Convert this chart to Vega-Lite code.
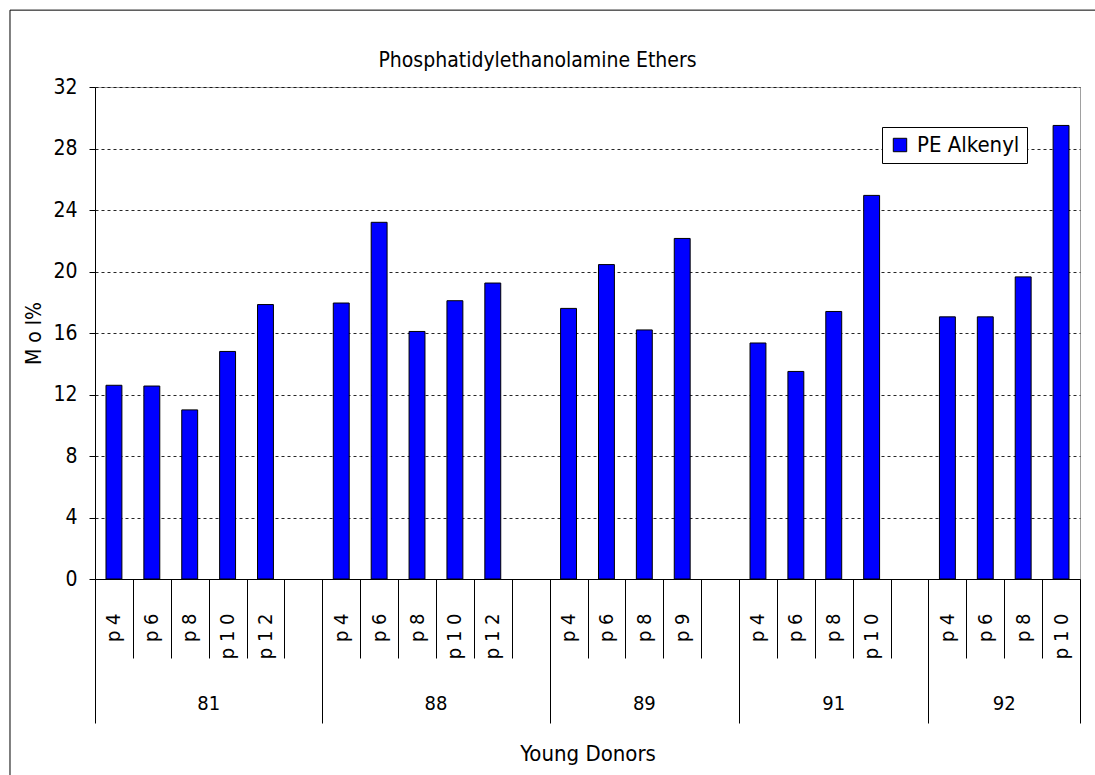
{
  "$schema": "https://vega.github.io/schema/vega-lite/v6.json",
  "width": 985,
  "height": 492,
  "autosize": {"type": "none"},
  "padding": {"left": 95, "top": 87, "right": 15, "bottom": 196},
  "background": "white",
  "config": {
    "font": "'DejaVu Sans Condensed', 'DejaVu Sans', sans-serif",
    "view": {"stroke": "#a0a0a0", "strokeWidth": 1}
  },
  "title": {
    "text": "Phosphatidylethanolamine Ethers",
    "fontSize": 21,
    "fontWeight": "normal",
    "color": "black",
    "frame": "group",
    "anchor": "middle",
    "offset": -61,
    "dx": -50
  },
  "datasets": {
    "bars": [
      {"key": "81|p 4", "group": "81", "value": 12.6, "series": "PE Alkenyl"},
      {"key": "81|p 6", "group": "81", "value": 12.55, "series": "PE Alkenyl"},
      {"key": "81|p 8", "group": "81", "value": 11.0, "series": "PE Alkenyl"},
      {"key": "81|p 1 0", "group": "81", "value": 14.8, "series": "PE Alkenyl"},
      {"key": "81|p 1 2", "group": "81", "value": 17.85, "series": "PE Alkenyl"},
      {"key": "88|p 4", "group": "88", "value": 17.95, "series": "PE Alkenyl"},
      {"key": "88|p 6", "group": "88", "value": 23.2, "series": "PE Alkenyl"},
      {"key": "88|p 8", "group": "88", "value": 16.1, "series": "PE Alkenyl"},
      {"key": "88|p 1 0", "group": "88", "value": 18.1, "series": "PE Alkenyl"},
      {"key": "88|p 1 2", "group": "88", "value": 19.25, "series": "PE Alkenyl"},
      {"key": "89|p 4", "group": "89", "value": 17.6, "series": "PE Alkenyl"},
      {"key": "89|p 6", "group": "89", "value": 20.45, "series": "PE Alkenyl"},
      {"key": "89|p 8", "group": "89", "value": 16.2, "series": "PE Alkenyl"},
      {"key": "89|p 9", "group": "89", "value": 22.15, "series": "PE Alkenyl"},
      {"key": "91|p 4", "group": "91", "value": 15.35, "series": "PE Alkenyl"},
      {"key": "91|p 6", "group": "91", "value": 13.5, "series": "PE Alkenyl"},
      {"key": "91|p 8", "group": "91", "value": 17.4, "series": "PE Alkenyl"},
      {"key": "91|p 1 0", "group": "91", "value": 24.95, "series": "PE Alkenyl"},
      {"key": "92|p 4", "group": "92", "value": 17.05, "series": "PE Alkenyl"},
      {"key": "92|p 6", "group": "92", "value": 17.05, "series": "PE Alkenyl"},
      {"key": "92|p 8", "group": "92", "value": 19.65, "series": "PE Alkenyl"},
      {"key": "92|p 1 0", "group": "92", "value": 29.5, "series": "PE Alkenyl"}
    ],
    "groups": [
      {"group": "81", "mid": 3},
      {"group": "88", "mid": 9},
      {"group": "89", "mid": 14.5},
      {"group": "91", "mid": 19.5},
      {"group": "92", "mid": 24}
    ]
  },
  "layer": [
    {
      "data": {"name": "bars"},
      "mark": {"type": "bar", "stroke": "black", "strokeWidth": 1, "width": {"band": 0.42}},
      "encoding": {
        "x": {
          "field": "key",
          "type": "nominal",
          "title": "Young Donors",
          "scale": {
            "domain": ["81|p 4", "81|p 6", "81|p 8", "81|p 1 0", "81|p 1 2", "81|",
                       "88|p 4", "88|p 6", "88|p 8", "88|p 1 0", "88|p 1 2", "88|",
                       "89|p 4", "89|p 6", "89|p 8", "89|p 9", "89|",
                       "91|p 4", "91|p 6", "91|p 8", "91|p 1 0", "91|",
                       "92|p 4", "92|p 6", "92|p 8", "92|p 1 0"],
            "paddingInner": 0,
            "paddingOuter": 0
          },
          "axis": {
            "tickBand": "extent",
            "labelExpr": "split(datum.value, '|')[1]",
            "labelAngle": -90,
            "labelAlign": "right",
            "labelBaseline": "middle",
            "labelFontSize": 20,
            "labelColor": "black",
            "labelOverlap": false,
            "labelPadding": {"condition": {"test": "isString(datum.value) && indexof(['81|','88|','89|','91|','92|p 1 0'], datum.value) < 0", "value": -45}, "value": -110},
            "tickColor": "black",
            "tickWidth": 1,
            "tickSize": {"condition": {"test": "isString(datum.value) && indexof(['81|','88|','89|','91|','92|p 1 0'], datum.value) < 0", "value": 79}, "value": 144},
            "domainColor": "black",
            "domainWidth": 1,
            "grid": false,
            "titleFontSize": 22,
            "titleFontWeight": "normal",
            "titleColor": "black",
            "titlePadding": 20
          }
        },
        "y": {
          "field": "value",
          "type": "quantitative",
          "title": "M o l%",
          "scale": {"domain": [0, 32], "nice": false},
          "axis": {
            "values": [0, 4, 8, 12, 16, 20, 24, 28, 32],
            "grid": true,
            "gridColor": "black",
            "gridDash": [3, 3],
            "gridWidth": 1,
            "gridOpacity": 0.85,
            "domainColor": "black",
            "tickColor": "black",
            "tickSize": 6,
            "labelFontSize": 21,
            "labelColor": "black",
            "labelPadding": 12,
            "titleFontSize": 21,
            "titleFontWeight": "normal",
            "titleColor": "black",
            "titlePadding": 8
          }
        },
        "color": {
          "field": "series",
          "type": "nominal",
          "scale": {"range": ["#0000ff"]},
          "legend": {
            "orient": "none",
            "legendX": 787,
            "legendY": 40,
            "title": null,
            "strokeColor": "black",
            "fillColor": "white",
            "padding": 7,
            "symbolType": "square",
            "symbolSize": 180,
            "symbolStrokeColor": "black",
            "symbolStrokeWidth": 1,
            "symbolOpacity": 1,
            "labelFontSize": 22,
            "labelColor": "black",
            "labelOffset": 6
          }
        }
      }
    },
    {
      "data": {"name": "groups"},
      "layer": [
        {
          "mark": {"type": "text", "fontSize": 20, "color": "black", "baseline": "middle", "align": "center"},
          "encoding": {
            "x": {"field": "mid", "type": "quantitative", "scale": {"domain": [0, 26], "nice": false}, "axis": null},
            "y": {"datum": -8.13},
            "text": {"field": "group"}
          }
        },
        {
          "data": {"values": [{"frame": "chart area"}]},
          "mark": {"type": "rect", "filled": false, "color": "black", "strokeWidth": 1},
          "encoding": {
            "x": {"datum": -2.244, "type": "quantitative"},
            "x2": {"datum": 27},
            "y": {"datum": 37.0, "type": "quantitative"},
            "y2": {"datum": -14}
          }
        }
      ]
    }
  ],
  "resolve": {"scale": {"x": "independent"}, "axis": {"x": "independent"}}
}
